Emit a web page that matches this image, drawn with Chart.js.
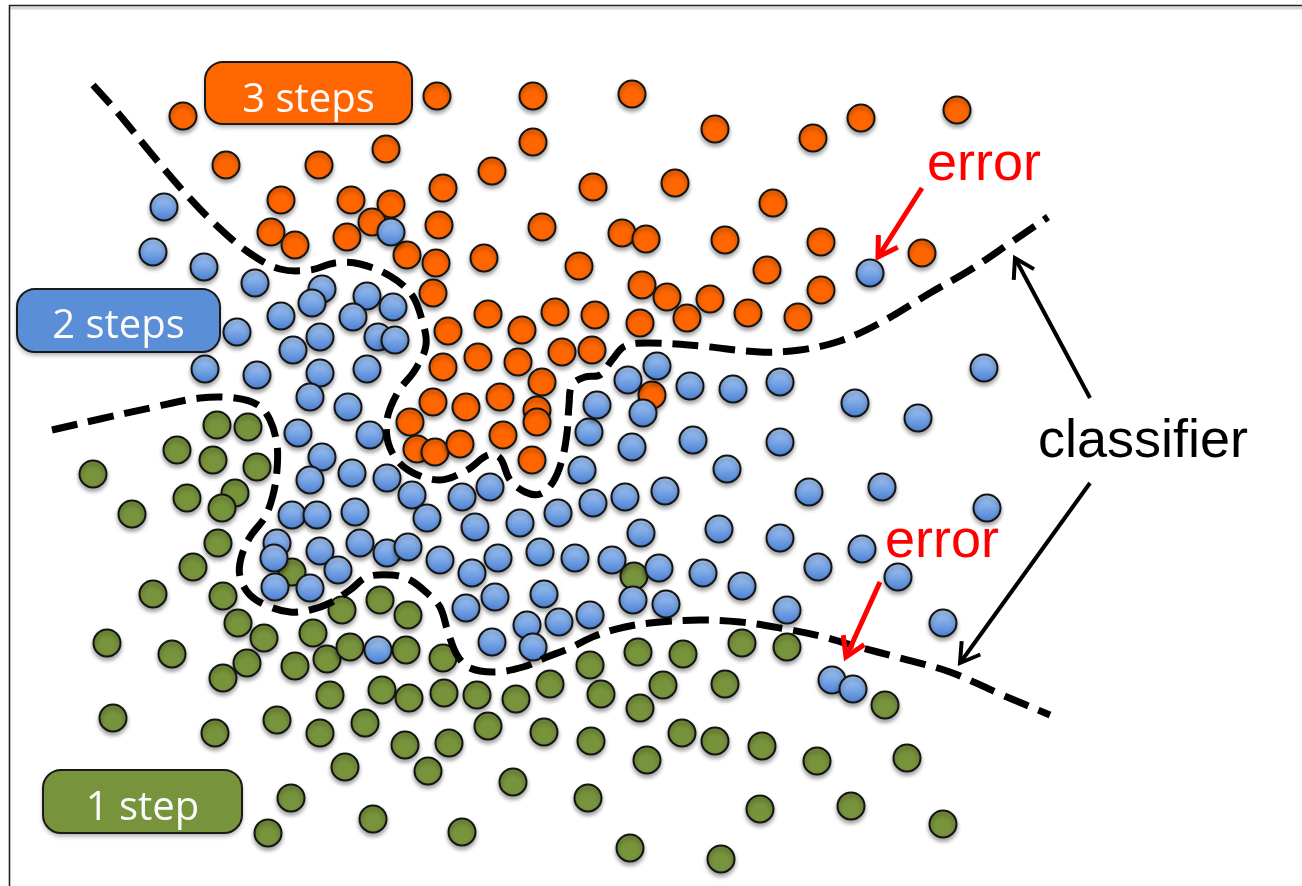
<!DOCTYPE html>
<html>
<head>
<meta charset="utf-8">
<script src="https://cdn.jsdelivr.net/npm/chart.js@4/dist/chart.umd.min.js"></script>
<style>
html,body{margin:0;padding:0;background:#ffffff;overflow:hidden}
#c{display:block}
</style>
</head>
<body>
<canvas id="c" width="1302" height="886"></canvas>
<script>
// ---------- data (picture coordinates: x to the right, y downward) ----------
const orangePoints = [
[183,116],[437,96],[533,96],[632,94],[957,110],[861,118],[813,138],[715,129],[533,142],[386,149],
[226,165],[319,165],[492,171],[443,188],[593,187],[675,183],[281,200],[351,200],[391,204],[773,203],
[372,222],[439,225],[542,227],[271,232],[295,245],[347,237],[407,255],[436,263],[484,258],[622,233],
[646,239],[725,240],[821,242],[922,253],[579,266],[767,270],[642,285],[667,297],[710,299],[821,290],
[433,293],[687,318],[748,313],[798,317],[488,314],[555,312],[595,315],[640,323],[448,331],[522,330],
[478,357],[518,362],[562,352],[592,350],[443,367],[542,382],[500,397],[433,402],[466,407],[537,410],
[537,422],[410,422],[503,435],[417,449],[435,452],[460,444],[532,460],[652,395]
];
const bluePoints = [
[164,207],[153,252],[204,267],[255,283],[391,232],[322,289],[312,303],[367,296],[393,307],[353,317],
[281,316],[237,332],[320,337],[378,337],[395,340],[293,350],[205,369],[257,375],[320,373],[367,369],
[310,397],[348,407],[298,433],[370,435],[322,457],[352,473],[387,478],[310,480],[412,495],[292,515],
[317,515],[355,512],[427,518],[462,497],[490,487],[475,527],[520,523],[558,513],[593,503],[625,497],
[665,491],[582,470],[632,447],[589,432],[597,405],[643,413],[628,380],[657,366],[690,386],[733,389],
[780,382],[855,403],[918,418],[984,368],[693,440],[780,442],[727,469],[809,492],[882,487],[987,508],
[719,529],[780,538],[862,549],[641,533],[659,568],[703,573],[742,586],[818,567],[898,577],[787,610],
[943,623],[832,680],[853,689],[870,273],[666,604],[633,600],[277,543],[320,551],[274,558],[275,587],
[310,588],[338,570],[360,543],[387,553],[408,547],[440,560],[472,573],[498,558],[540,552],[575,558],
[612,560],[495,597],[544,594],[466,608],[527,625],[559,622],[590,615],[492,642],[533,647],[378,650]
];
const greenPoints = [
[93,474],[132,514],[177,450],[217,425],[248,427],[213,460],[257,467],[187,498],[235,493],[222,508],
[218,543],[193,567],[153,594],[223,596],[292,572],[107,643],[172,654],[238,623],[264,638],[247,663],
[223,678],[295,666],[313,633],[342,610],[380,600],[408,615],[327,659],[350,647],[406,650],[443,658],
[113,718],[215,733],[277,720],[320,733],[330,695],[382,690],[409,698],[444,693],[477,695],[516,699],
[550,684],[590,665],[638,652],[601,694],[663,685],[640,708],[365,723],[488,726],[544,732],[591,741],
[405,745],[449,743],[345,767],[428,771],[513,782],[647,760],[588,798],[373,819],[462,832],[630,848],
[291,798],[268,833],[683,654],[742,643],[787,647],[725,684],[682,733],[715,741],[762,746],[817,761],
[885,705],[907,758],[760,809],[851,806],[943,824],[721,859],[634,576]
];
const upperClassifier = [
[93,85],[118,113],[150,152],[185,193],[215,224],[248,252],[280,269],[310,270],[335,263],[360,264],
[390,276],[412,295],[422,320],[426,345],[415,370],[398,392],[387,420],[390,448],[408,470],[440,480],
[467,470],[488,455],[500,458],[510,480],[525,492],[540,494],[553,482],[562,460],[567,433],[569,405],
[572,385],[585,377],[600,375],[612,360],[625,346],[650,343],[700,346],[760,352],[800,350],[840,341],
[880,323],[930,293],[970,270],[1010,243],[1048,217]
];
const lowerClassifier = [
[52,430],[100,419],[150,408],[200,398],[235,398],[258,405],[270,420],[277,445],[277,470],[273,495],
[265,517],[250,537],[241,558],[240,577],[250,595],[268,606],[290,612],[310,610],[330,603],[350,590],
[367,577],[392,575],[410,580],[427,593],[440,607],[448,632],[457,655],[470,668],[495,672],[523,667],
[547,657],[570,648],[595,636],[625,627],[660,622],[700,620],[740,622],[780,628],[820,636],[855,646],
[900,658],[950,672],[1000,694],[1050,715]
];
const errorArrowTop = [[922,188],[878,257]];
const errorArrowBottom = [[880,582],[846,657]];
const classifierArrowTop = [[1090,398],[1015,258]];
const classifierArrowBottom = [[1090,483],[960,663]];
const groupLabels = ['3 steps','2 steps','1 step'];
const noteLabels = ['error','error','classifier'];

// ---------- layout of the labels ----------
const boxes = [
  {text: groupLabels[0], x0:205, y0:62,  x1:412, y1:124, fill:'#FF6600', base:112},
  {text: groupLabels[1], x0:17,  y0:289, x1:220, y1:352, fill:'#5A8ED6', base:338},
  {text: groupLabels[2], x0:43,  y0:770, x1:242, y1:833, fill:'#77933C', base:820}
];
const notes = [
  {text: noteLabels[0], x:927,  y:180, color:'#FF0000'},
  {text: noteLabels[1], x:885,  y:557, color:'#FF0000'},
  {text: noteLabels[2], x:1038, y:457, color:'#000000'}
];

const toXY = a => a.map(p => ({x:p[0], y:p[1]}));

const blueFill = (c) => {
  const flat = '#6E9FE3';
  if (c.type !== 'data' || !c.parsed) return flat;
  const ch = c.chart;
  const y = ch.scales && ch.scales.y ? ch.scales.y.getPixelForValue(c.parsed.y) : NaN;
  if (!isFinite(y)) return flat;
  const g = ch.ctx.createLinearGradient(0, y - 14, 0, y + 14);
  g.addColorStop(0, '#AACDF9');
  g.addColorStop(1, '#4A7FD2');
  return g;
};

const pointDs = (data, fill, order) => ({
  type:'scatter', data: toXY(data), backgroundColor: fill, borderColor:'#141414',
  borderWidth:2, pointRadius:13.5, pointHoverRadius:13.5, order, shadow:true
});
const curveDs = (data) => ({
  type:'line', data: toXY(data), borderColor:'#000', borderWidth:7, borderDash:[26,11],
  borderCapStyle:'butt', tension:0.35, pointRadius:0, fill:false, order:2, shadow:false
});
const arrowDs = (data, color, w) => ({
  type:'line', data: toXY(data), borderColor: color, borderWidth: w, tension:0,
  pointRadius:0, fill:false, order:1, arrow:true, borderCapStyle:'butt'
});

const decor = {
  id:'decor',
  beforeDraw(chart){
    const ctx = chart.ctx;
    ctx.save();
    ctx.fillStyle = '#fff';
    ctx.fillRect(0,0,chart.width,chart.height);
    ctx.strokeStyle = '#d8d8d8'; ctx.lineWidth = 3;
    ctx.beginPath(); ctx.moveTo(9, 8); ctx.lineTo(chart.width, 8); ctx.stroke();
    ctx.strokeStyle = '#222'; ctx.lineWidth = 1.6;
    ctx.beginPath(); ctx.moveTo(9.5, chart.height); ctx.lineTo(9.5, 5.5); ctx.lineTo(chart.width, 5.5); ctx.stroke();
    ctx.restore();
  },
  beforeDatasetDraw(chart, args){
    const ds = chart.data.datasets[args.index];
    const ctx = chart.ctx;
    ctx.save();
    if (ds.shadow) {
      ctx.shadowColor = 'rgba(0,0,0,0.35)';
      ctx.shadowBlur = 4; ctx.shadowOffsetY = 3;
    }
  },
  afterDatasetDraw(chart){ chart.ctx.restore(); },
  afterDatasetsDraw(chart){
    const ctx = chart.ctx, xs = chart.scales.x, ys = chart.scales.y;
    chart.data.datasets.forEach((ds, i) => {
      if (!ds.arrow) return;
      const pts = chart.getDatasetMeta(i).data;
      const a = pts[pts.length-2], b = pts[pts.length-1];
      const ang = Math.atan2(b.y - a.y, b.x - a.x);
      const L = 22, sp = 0.55;
      ctx.save();
      ctx.strokeStyle = ds.borderColor; ctx.lineWidth = ds.borderWidth;
      ctx.lineCap = 'butt'; ctx.lineJoin = 'miter';
      ctx.beginPath();
      ctx.moveTo(b.x - L*Math.cos(ang - sp), b.y - L*Math.sin(ang - sp));
      ctx.lineTo(b.x, b.y);
      ctx.lineTo(b.x - L*Math.cos(ang + sp), b.y - L*Math.sin(ang + sp));
      ctx.stroke();
      ctx.restore();
    });
    boxes.forEach(bx => {
      const x0 = xs.getPixelForValue(bx.x0), x1 = xs.getPixelForValue(bx.x1);
      const y0 = ys.getPixelForValue(bx.y0), y1 = ys.getPixelForValue(bx.y1);
      ctx.save();
      ctx.shadowColor = 'rgba(0,0,0,0.35)'; ctx.shadowBlur = 5; ctx.shadowOffsetY = 3;
      ctx.beginPath(); ctx.roundRect(x0, y0, x1 - x0, y1 - y0, 18);
      ctx.fillStyle = bx.fill; ctx.fill();
      ctx.shadowColor = 'transparent';
      ctx.lineWidth = 2; ctx.strokeStyle = '#1a1a1a'; ctx.stroke();
      ctx.fillStyle = '#fbfbfb';
      ctx.font = '40px "Open Sans"';
      ctx.textAlign = 'center'; ctx.textBaseline = 'alphabetic';
      ctx.fillText(bx.text, (x0 + x1)/2, ys.getPixelForValue(bx.base));
      ctx.restore();
    });
    notes.forEach(n => {
      ctx.save();
      ctx.fillStyle = n.color;
      ctx.font = '54px "Liberation Sans", Arial, sans-serif';
      ctx.textAlign = 'left'; ctx.textBaseline = 'alphabetic';
      ctx.fillText(n.text, xs.getPixelForValue(n.x), ys.getPixelForValue(n.y));
      ctx.restore();
    });
  }
};

new Chart(document.getElementById('c'), {
  type:'scatter',
  data:{ datasets:[
    pointDs(orangePoints, '#FF6600', 5),
    pointDs(greenPoints, '#77933C', 4),
    pointDs(bluePoints, blueFill, 3),
    curveDs(upperClassifier),
    curveDs(lowerClassifier),
    arrowDs(errorArrowTop, '#FF0000', 5),
    arrowDs(errorArrowBottom, '#FF0000', 5),
    arrowDs(classifierArrowTop, '#000000', 4),
    arrowDs(classifierArrowBottom, '#000000', 4)
  ]},
  options:{
    responsive:false, maintainAspectRatio:false, devicePixelRatio:1, animation:false,
    layout:{padding:0, autoPadding:false},
    events:[],
    scales:{
      x:{type:'linear', min:0, max:1302, display:false},
      y:{type:'linear', min:0, max:886, reverse:true, display:false}
    },
    plugins:{ legend:{display:false}, tooltip:{enabled:false}, title:{display:false} }
  },
  plugins:[decor]
});
</script>
</body>
</html>
